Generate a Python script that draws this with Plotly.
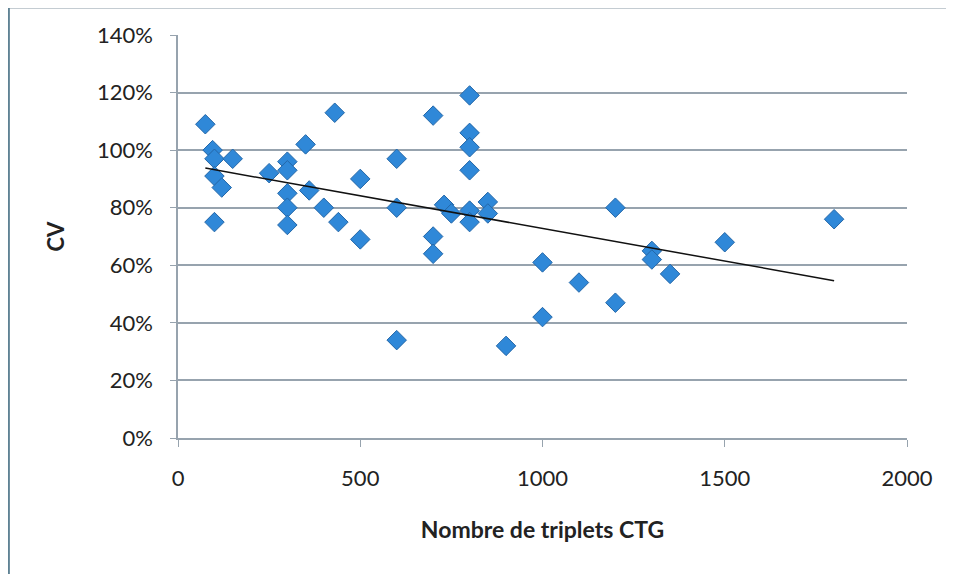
import numpy as np
import plotly.graph_objects as go

# CTG triplet count vs coefficient of variation (CV)
triplets = [75, 95, 100, 150, 100, 120, 100, 250, 300, 300, 300, 300, 300,
            350, 360, 400, 440, 430, 500, 500, 600, 600, 600, 700, 700, 700,
            730, 750, 800, 800, 800, 800, 800, 800, 850, 850, 900, 1000, 1000,
            1100, 1200, 1200, 1300, 1300, 1350, 1500, 1800]
cv = [1.09, 1.00, 0.97, 0.97, 0.91, 0.87, 0.75, 0.92, 0.96, 0.93, 0.85, 0.80, 0.74,
      1.02, 0.86, 0.80, 0.75, 1.13, 0.90, 0.69, 0.97, 0.80, 0.34, 1.12, 0.70, 0.64,
      0.81, 0.78, 1.19, 1.06, 1.01, 0.93, 0.79, 0.75, 0.82, 0.78, 0.32, 0.61, 0.42,
      0.54, 0.80, 0.47, 0.65, 0.62, 0.57, 0.68, 0.76]

x_ticks = [0, 500, 1000, 1500, 2000]
y_ticks = [0, 0.2, 0.4, 0.6, 0.8, 1.0, 1.2, 1.4]

# linear trend line (least squares), drawn over the data span
slope, intercept = np.polyfit(triplets, cv, 1)
trend_x = np.array([min(triplets), max(triplets)])
trend_y = slope * trend_x + intercept

FONT = "Lato, 'Open Sans', sans-serif"
GRID = "#97a3ae"

fig = go.Figure()

fig.add_trace(go.Scatter(
    x=triplets, y=cv,
    mode='markers',
    marker=dict(symbol='diamond', size=15, color='#2f88d8',
                line=dict(color='#2467a8', width=1)),
    showlegend=False
))

fig.add_trace(go.Scatter(
    x=trend_x, y=trend_y,
    mode='lines',
    line=dict(color='#111111', width=1.5),
    showlegend=False
))

fig.update_layout(
    width=954, height=574,
    margin=dict(l=170, r=55, t=27, b=144),
    paper_bgcolor='white',
    plot_bgcolor='white',
    font=dict(family=FONT, size=22, color='#222222'),
    xaxis=dict(
        range=[0, 2000], tickvals=x_ticks,
        showgrid=False, zeroline=False,
        showline=True, linecolor=GRID, linewidth=2,
        ticks='outside', ticklen=7, tickcolor=GRID, tickwidth=1,
        ticklabelstandoff=13,
        title=dict(text='<b>Nombre de triplets CTG</b>',
                   font=dict(size=23), standoff=31),
    ),
    yaxis=dict(
        range=[0, 1.4], tickvals=y_ticks, tickformat='.0%',
        showgrid=True, gridcolor=GRID, gridwidth=2,
        zeroline=False,
        showline=True, linecolor=GRID, linewidth=1.5,
        ticks='outside', ticklen=6, tickcolor=GRID,
        ticklabelstandoff=13,
        title=dict(text='<b>CV</b>', font=dict(size=22), standoff=26),
    ),
)

# chart-area frame (top and left edges visible)
fig.add_shape(type='line', xref='paper', yref='paper',
              x0=-0.232, x1=1.1, y0=1.068, y1=1.068,
              line=dict(color='#8a9aa6', width=2))
fig.add_shape(type='line', xref='paper', yref='paper',
              x0=-0.232, x1=-0.232, y0=1.068, y1=-0.5,
              line=dict(color='#5f8294', width=2))

fig.write_html("out.html")
